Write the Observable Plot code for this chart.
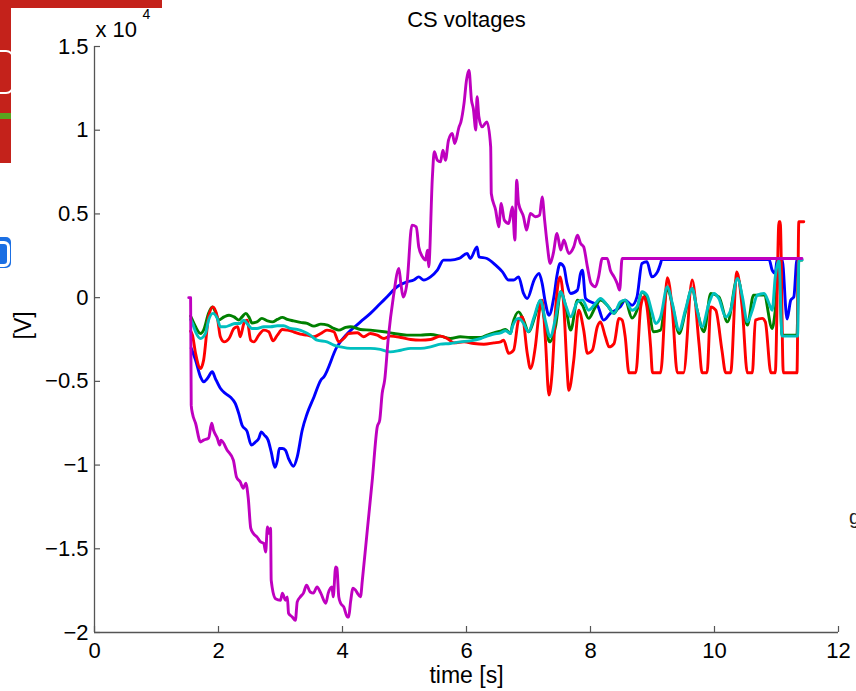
<!DOCTYPE html>
<html>
<head>
<meta charset="utf-8">
<script src="https://cdn.jsdelivr.net/npm/d3@7"></script>
<script src="https://cdn.jsdelivr.net/npm/@observablehq/plot@0.6"></script>
<style>
  html, body { margin: 0; padding: 0; background: #fff; overflow: hidden; }
  #wrap { position: relative; width: 856px; height: 691px; }
  #chart svg { display: block; }
  .deco { position: absolute; }
</style>
</head>
<body>
<div id="wrap">
  <div id="chart"></div>
  <div class="deco" style="left:0;top:0;width:162px;height:8px;background:#c4221b;"></div>
  <div class="deco" style="left:0;top:0;width:11px;height:163px;background:#c4221b;"></div>
  <div class="deco" style="left:0;top:113px;width:11px;height:6px;background:#5aa51f;"></div>
  <div class="deco" style="left:-12px;top:50px;width:22px;height:40px;border:2px solid #fff;border-radius:8px;"></div>
  <div class="deco" style="left:-12px;top:237px;width:23px;height:31px;background:#1b6fe3;border-radius:5px;"></div>
  <div class="deco" style="left:-6px;top:241px;width:10px;height:20px;border:3px solid #fff;border-radius:6px;"></div>
  <div class="deco" style="left:849px;top:506px;font:20px 'Liberation Sans',Arial,sans-serif;color:#222;">g</div>
</div>
<script>
const title = "CS voltages";
const xLabel = "time [s]";
const yLabel = "[V]";
const xTicks = [0, 2, 4, 6, 8, 10, 12];
const yTicks = [-20000, -15000, -10000, -5000, 0, 5000, 10000, 15000];
const seriesNames = ["ch1", "ch2", "ch3", "ch4", "ch5"];
const seriesColors = ["#0000ff", "#008000", "#ff0000", "#00bfbf", "#bf00bf"];

// [time s, voltage V]
const blue = [[1.56,-3020],[1.63,-3730],[1.71,-4730],[1.76,-5030],[1.82,-4830],[1.90,-4430],[1.95,-4830],[2.03,-5410],[2.11,-5720],[2.19,-5930],[2.27,-6320],[2.33,-6960],[2.38,-7620],[2.46,-7980],[2.53,-8810],[2.60,-8610],[2.65,-8410],[2.69,-8020],[2.74,-8210],[2.80,-8510],[2.85,-9210],[2.91,-10140],[2.95,-9710],[2.98,-9010],[3.03,-9010],[3.08,-9110],[3.13,-9610],[3.21,-10070],[3.27,-9510],[3.35,-7920],[3.43,-6920],[3.54,-5930],[3.65,-4930],[3.70,-4730],[3.91,-2940],[4.08,-2140],[4.29,-1450],[4.45,-940],[4.61,-350],[4.72,50],[4.88,650],[5.04,940],[5.15,1050],[5.23,1240],[5.31,1050],[5.42,1240],[5.53,1640],[5.63,2240],[5.74,2240],[5.88,2340],[6.01,2640],[6.06,2340],[6.17,3030],[6.20,2440],[6.33,2340],[6.47,1940],[6.58,1540],[6.68,1050],[6.76,1050],[6.84,1240],[6.92,250],[6.98,-50],[7.09,1050],[7.17,1450],[7.22,850],[7.27,-250],[7.33,-1050],[7.41,50],[7.46,1340],[7.51,2040],[7.57,1840],[7.62,850],[7.68,250],[7.79,450],[7.84,1450],[7.87,1640],[7.92,-50],[8.00,-250],[8.11,-450],[8.21,-1340],[8.32,-940],[8.48,-550],[8.56,-150],[8.67,-450],[8.75,50],[8.83,2040],[8.91,2140],[8.99,1240],[9.08,1540],[9.13,2040],[9.15,2280],[10.88,2280],[10.93,1640],[10.98,1450],[11.01,2280],[11.09,2280],[11.17,-1280],[11.23,-150],[11.28,50],[11.33,2280],[11.41,2280]];

const green = [[1.55,-1100],[1.58,-1340],[1.63,-1740],[1.71,-2140],[1.76,-1940],[1.84,-940],[1.90,-550],[1.95,-850],[2.00,-1340],[2.09,-1150],[2.17,-1050],[2.25,-1150],[2.33,-1340],[2.38,-1150],[2.44,-940],[2.49,-1150],[2.54,-1510],[2.62,-1450],[2.70,-1240],[2.79,-1390],[2.87,-1450],[2.95,-1300],[3.03,-1180],[3.11,-1300],[3.21,-1390],[3.32,-1480],[3.43,-1540],[3.54,-1700],[3.65,-1580],[3.76,-1640],[3.86,-1840],[3.94,-1940],[4.05,-1780],[4.13,-1740],[4.29,-1900],[4.45,-1940],[4.67,-2040],[4.83,-2140],[5.04,-2240],[5.26,-2240],[5.42,-2200],[5.58,-2300],[5.74,-2440],[5.90,-2340],[6.06,-2380],[6.23,-2380],[6.33,-2240],[6.44,-2100],[6.55,-2000],[6.63,-1900],[6.71,-2140],[6.74,-1640],[6.84,-850],[6.92,-1340],[7.00,-2040],[7.11,-1050],[7.19,-180],[7.27,-1540],[7.34,-2640],[7.44,-1640],[7.52,350],[7.60,-550],[7.68,-1940],[7.79,-150],[7.87,-450],[7.97,-1240],[8.08,-550],[8.16,-150],[8.27,-450],[8.38,-940],[8.48,-350],[8.56,-150],[8.67,-1220],[8.75,-750],[8.83,330],[8.91,-50],[9.02,-2040],[9.13,-1940],[9.24,570],[9.32,-450],[9.43,-2140],[9.53,-870],[9.64,540],[9.72,-750],[9.83,-2040],[9.94,250],[10.07,50],[10.21,-1450],[10.37,1190],[10.53,-1640],[10.63,150],[10.80,150],[10.93,-1840],[10.98,-750],[11.04,2120],[11.09,-2240],[11.33,-2240],[11.36,2240],[11.41,2240]];

const red = [[1.55,-2000],[1.58,-2240],[1.63,-3330],[1.71,-4230],[1.76,-3730],[1.84,-1150],[1.91,-550],[1.98,-1150],[2.03,-2340],[2.09,-2640],[2.17,-2440],[2.25,-1840],[2.31,-1740],[2.35,-2340],[2.41,-1540],[2.46,-1340],[2.52,-2540],[2.57,-2640],[2.65,-2240],[2.73,-1940],[2.81,-2040],[2.88,-2580],[2.95,-2240],[3.03,-1900],[3.11,-1940],[3.21,-2040],[3.32,-2180],[3.43,-2240],[3.54,-2340],[3.65,-2140],[3.75,-1940],[3.86,-2040],[3.94,-2640],[4.02,-2440],[4.10,-2140],[4.24,-2100],[4.34,-2340],[4.45,-2140],[4.56,-2240],[4.67,-2440],[4.77,-2300],[4.94,-2380],[5.10,-2500],[5.26,-2540],[5.42,-2500],[5.58,-2300],[5.69,-2440],[5.80,-2700],[5.96,-2640],[6.12,-2740],[6.28,-2780],[6.44,-2700],[6.55,-2640],[6.60,-2540],[6.68,-3330],[6.76,-3140],[6.84,-1340],[6.90,-1150],[6.98,-3330],[7.03,-4230],[7.11,-2940],[7.17,-940],[7.22,-150],[7.27,-2340],[7.33,-5820],[7.38,-4530],[7.44,-550],[7.51,1240],[7.57,-550],[7.62,-4130],[7.65,-5530],[7.73,-3730],[7.81,-750],[7.89,-1940],[7.95,-3330],[8.03,-3140],[8.11,-1740],[8.16,-1450],[8.24,-2340],[8.30,-2940],[8.38,-2740],[8.46,-1240],[8.51,-1340],[8.56,-2340],[8.62,-4490],[8.73,-4490],[8.81,-550],[8.86,50],[8.91,-550],[8.97,-2940],[9.00,-4490],[9.13,-4490],[9.24,1190],[9.32,-750],[9.40,-4490],[9.50,-4490],[9.64,1050],[9.75,-2740],[9.80,-4490],[9.88,-4490],[9.94,-550],[10.02,-750],[10.12,-3140],[10.18,-4490],[10.26,-4490],[10.36,1540],[10.45,-750],[10.53,-4490],[10.61,-4490],[10.66,-1340],[10.77,-1240],[10.82,-1450],[10.91,-4490],[10.98,-4490],[11.04,4530],[11.06,4530],[11.11,-4490],[11.33,-4490],[11.36,4530],[11.44,4530]];

const cyan = [[1.55,-1300],[1.58,-1540],[1.63,-2040],[1.71,-2440],[1.79,-2140],[1.84,-1340],[1.91,-940],[1.98,-1240],[2.03,-1740],[2.11,-1740],[2.19,-1640],[2.27,-1540],[2.34,-1540],[2.41,-1340],[2.46,-1540],[2.54,-1840],[2.62,-1840],[2.73,-1740],[2.84,-1740],[2.95,-1680],[3.05,-1680],[3.16,-1840],[3.27,-1900],[3.38,-2040],[3.48,-2240],[3.59,-2540],[3.75,-2640],[3.86,-2840],[3.97,-2940],[4.13,-3030],[4.29,-3030],[4.45,-3030],[4.61,-3090],[4.77,-3240],[4.94,-3140],[5.10,-3030],[5.26,-3030],[5.42,-2940],[5.58,-2780],[5.74,-2740],[5.90,-2640],[6.06,-2580],[6.23,-2440],[6.33,-2300],[6.44,-2180],[6.55,-2100],[6.63,-1980],[6.71,-2140],[6.74,-1740],[6.84,-1240],[6.92,-1540],[7.00,-2040],[7.09,-1150],[7.19,-150],[7.27,-1340],[7.35,-2340],[7.44,-1150],[7.52,350],[7.60,-450],[7.68,-1150],[7.79,-250],[7.87,-150],[7.97,-750],[8.08,-350],[8.16,-50],[8.27,-450],[8.38,-940],[8.48,-250],[8.56,-150],[8.67,-750],[8.75,-550],[8.83,350],[8.91,150],[8.99,-850],[9.05,-1540],[9.13,-1150],[9.24,650],[9.32,-350],[9.43,-1940],[9.53,-750],[9.64,550],[9.72,-750],[9.80,-1740],[9.91,-350],[9.99,250],[10.07,-50],[10.18,-1150],[10.26,-750],[10.37,1150],[10.45,50],[10.53,-1450],[10.61,-750],[10.69,150],[10.80,250],[10.88,-350],[10.93,-750],[10.98,1240],[11.04,2240],[11.09,-2300],[11.34,-2300],[11.36,2240],[11.41,2240]];

const magenta = [[1.52,0],[1.55,0],[1.56,-6420],[1.58,-6920],[1.63,-7500],[1.71,-8620],[1.76,-8510],[1.84,-8390],[1.89,-7500],[1.92,-7920],[1.98,-8390],[2.02,-8810],[2.04,-8510],[2.14,-9110],[2.24,-9710],[2.29,-10710],[2.35,-11000],[2.40,-11380],[2.44,-11080],[2.48,-11980],[2.52,-13770],[2.56,-14070],[2.62,-14290],[2.68,-14590],[2.73,-14670],[2.76,-15190],[2.79,-13690],[2.81,-14070],[2.84,-13770],[2.85,-16880],[2.92,-17980],[3.00,-18070],[3.03,-17650],[3.08,-18070],[3.11,-17870],[3.13,-18850],[3.19,-19070],[3.24,-19270],[3.27,-18170],[3.32,-17870],[3.37,-17650],[3.42,-17180],[3.48,-17580],[3.53,-17650],[3.59,-17280],[3.65,-17650],[3.73,-18250],[3.77,-17650],[3.83,-17280],[3.85,-17870],[3.89,-16080],[3.91,-16160],[3.94,-17870],[3.97,-18250],[4.02,-18470],[4.08,-19070],[4.10,-19070],[4.13,-18170],[4.17,-17350],[4.21,-17470],[4.24,-17650],[4.29,-17870],[4.32,-16880],[4.40,-13890],[4.48,-10900],[4.56,-7720],[4.60,-7320],[4.64,-5710],[4.68,-4930],[4.74,-2360],[4.82,30],[4.91,1740],[4.94,870],[4.98,30],[5.04,870],[5.12,4330],[5.19,4230],[5.23,3030],[5.29,2440],[5.34,2240],[5.37,2840],[5.39,1840],[5.45,7220],[5.48,8710],[5.53,8210],[5.58,8110],[5.62,8810],[5.66,8210],[5.71,9410],[5.77,9810],[5.81,9210],[5.88,10200],[5.91,10500],[5.96,11600],[6.00,12990],[6.04,13590],[6.08,11800],[6.11,11300],[6.15,10010],[6.17,12000],[6.20,10800],[6.25,10200],[6.33,10500],[6.39,9010],[6.40,6220],[6.47,5230],[6.52,4230],[6.56,5630],[6.61,4630],[6.68,4430],[6.74,5420],[6.78,3440],[6.81,7020],[6.84,5630],[6.92,4830],[6.97,4030],[7.03,5030],[7.11,4830],[7.18,4930],[7.22,6020],[7.26,4630],[7.30,3240],[7.35,2040],[7.40,2640],[7.46,3840],[7.52,2840],[7.57,3440],[7.65,2640],[7.73,3030],[7.79,3730],[7.84,3240],[7.89,3030],[7.95,1840],[8.01,850],[8.08,650],[8.13,1240],[8.19,2340],[8.27,2340],[8.32,1640],[8.38,1240],[8.43,850],[8.47,450],[8.51,2340],[11.41,2340]];

const allSeries = [blue, green, red, cyan, magenta];
const rows = allSeries.flatMap((s, i) => s.map(([t, v]) => ({series: seriesNames[i], t, v})));

const W = 856, H = 691, mL = 94, mR = 18, mT = 46, mB = 59, tickLen = 6;
const frameW = W - mL - mR, frameH = H - mT - mB;

const font = "'Liberation Sans', Arial, Helvetica, sans-serif";
const fmtY = d => String(d / 1e4).replace("-", "\u2212");

const chart = Plot.plot({
  width: W,
  height: H,
  marginLeft: mL,
  marginRight: mR,
  marginTop: mT,
  marginBottom: mB,
  style: {fontFamily: font, fontSize: "22px", background: "transparent", color: "#000"},
  x: {domain: [xTicks[0], xTicks[xTicks.length - 1]]},
  y: {domain: [yTicks[0], yTicks[yTicks.length - 1]]},
  color: {domain: seriesNames, range: seriesColors},
  marks: [
    Plot.ruleX([xTicks[0]], {stroke: "#555", strokeWidth: 1.3}),
    Plot.ruleY([yTicks[0]], {stroke: "#555", strokeWidth: 1.3}),
    Plot.tickY(yTicks, {y: d => d, insetRight: frameW - tickLen, stroke: "#555", strokeWidth: 1.2}),
    Plot.tickX(xTicks, {x: d => d, insetTop: frameH - tickLen, stroke: "#555", strokeWidth: 1.2}),
    Plot.axisY(yTicks, {tickSize: 0, tickPadding: 6, tickFormat: fmtY, fontSize: 22, fill: "#000", label: null}),
    Plot.axisX(xTicks, {tickSize: 0, tickPadding: 10, tickFormat: d => String(d), fontSize: 22, fill: "#000", label: null}),
    Plot.line(rows, {x: "t", y: "v", z: "series", stroke: "series", strokeWidth: 2.9, strokeLinejoin: "round", curve: "monotone-x"}),
    Plot.text([title], {frameAnchor: "top", dy: -35, fontSize: 22, fill: "#000"}),
    Plot.text([xLabel], {frameAnchor: "bottom", dy: 50, fontSize: 23, fill: "#000"}),
    Plot.text([yLabel], {frameAnchor: "left", dx: -71, rotate: -90, fontSize: 23, fill: "#000"}),
    Plot.text(["x 10"], {frameAnchor: "top-left", textAnchor: "start", dx: 1, dy: -25, fontSize: 22, fill: "#000"}),
    Plot.text(["4"], {frameAnchor: "top-left", textAnchor: "start", dx: 48, dy: -37, fontSize: 14, fill: "#000"})
  ]
});
document.getElementById("chart").appendChild(chart);
</script>
</body>
</html>
